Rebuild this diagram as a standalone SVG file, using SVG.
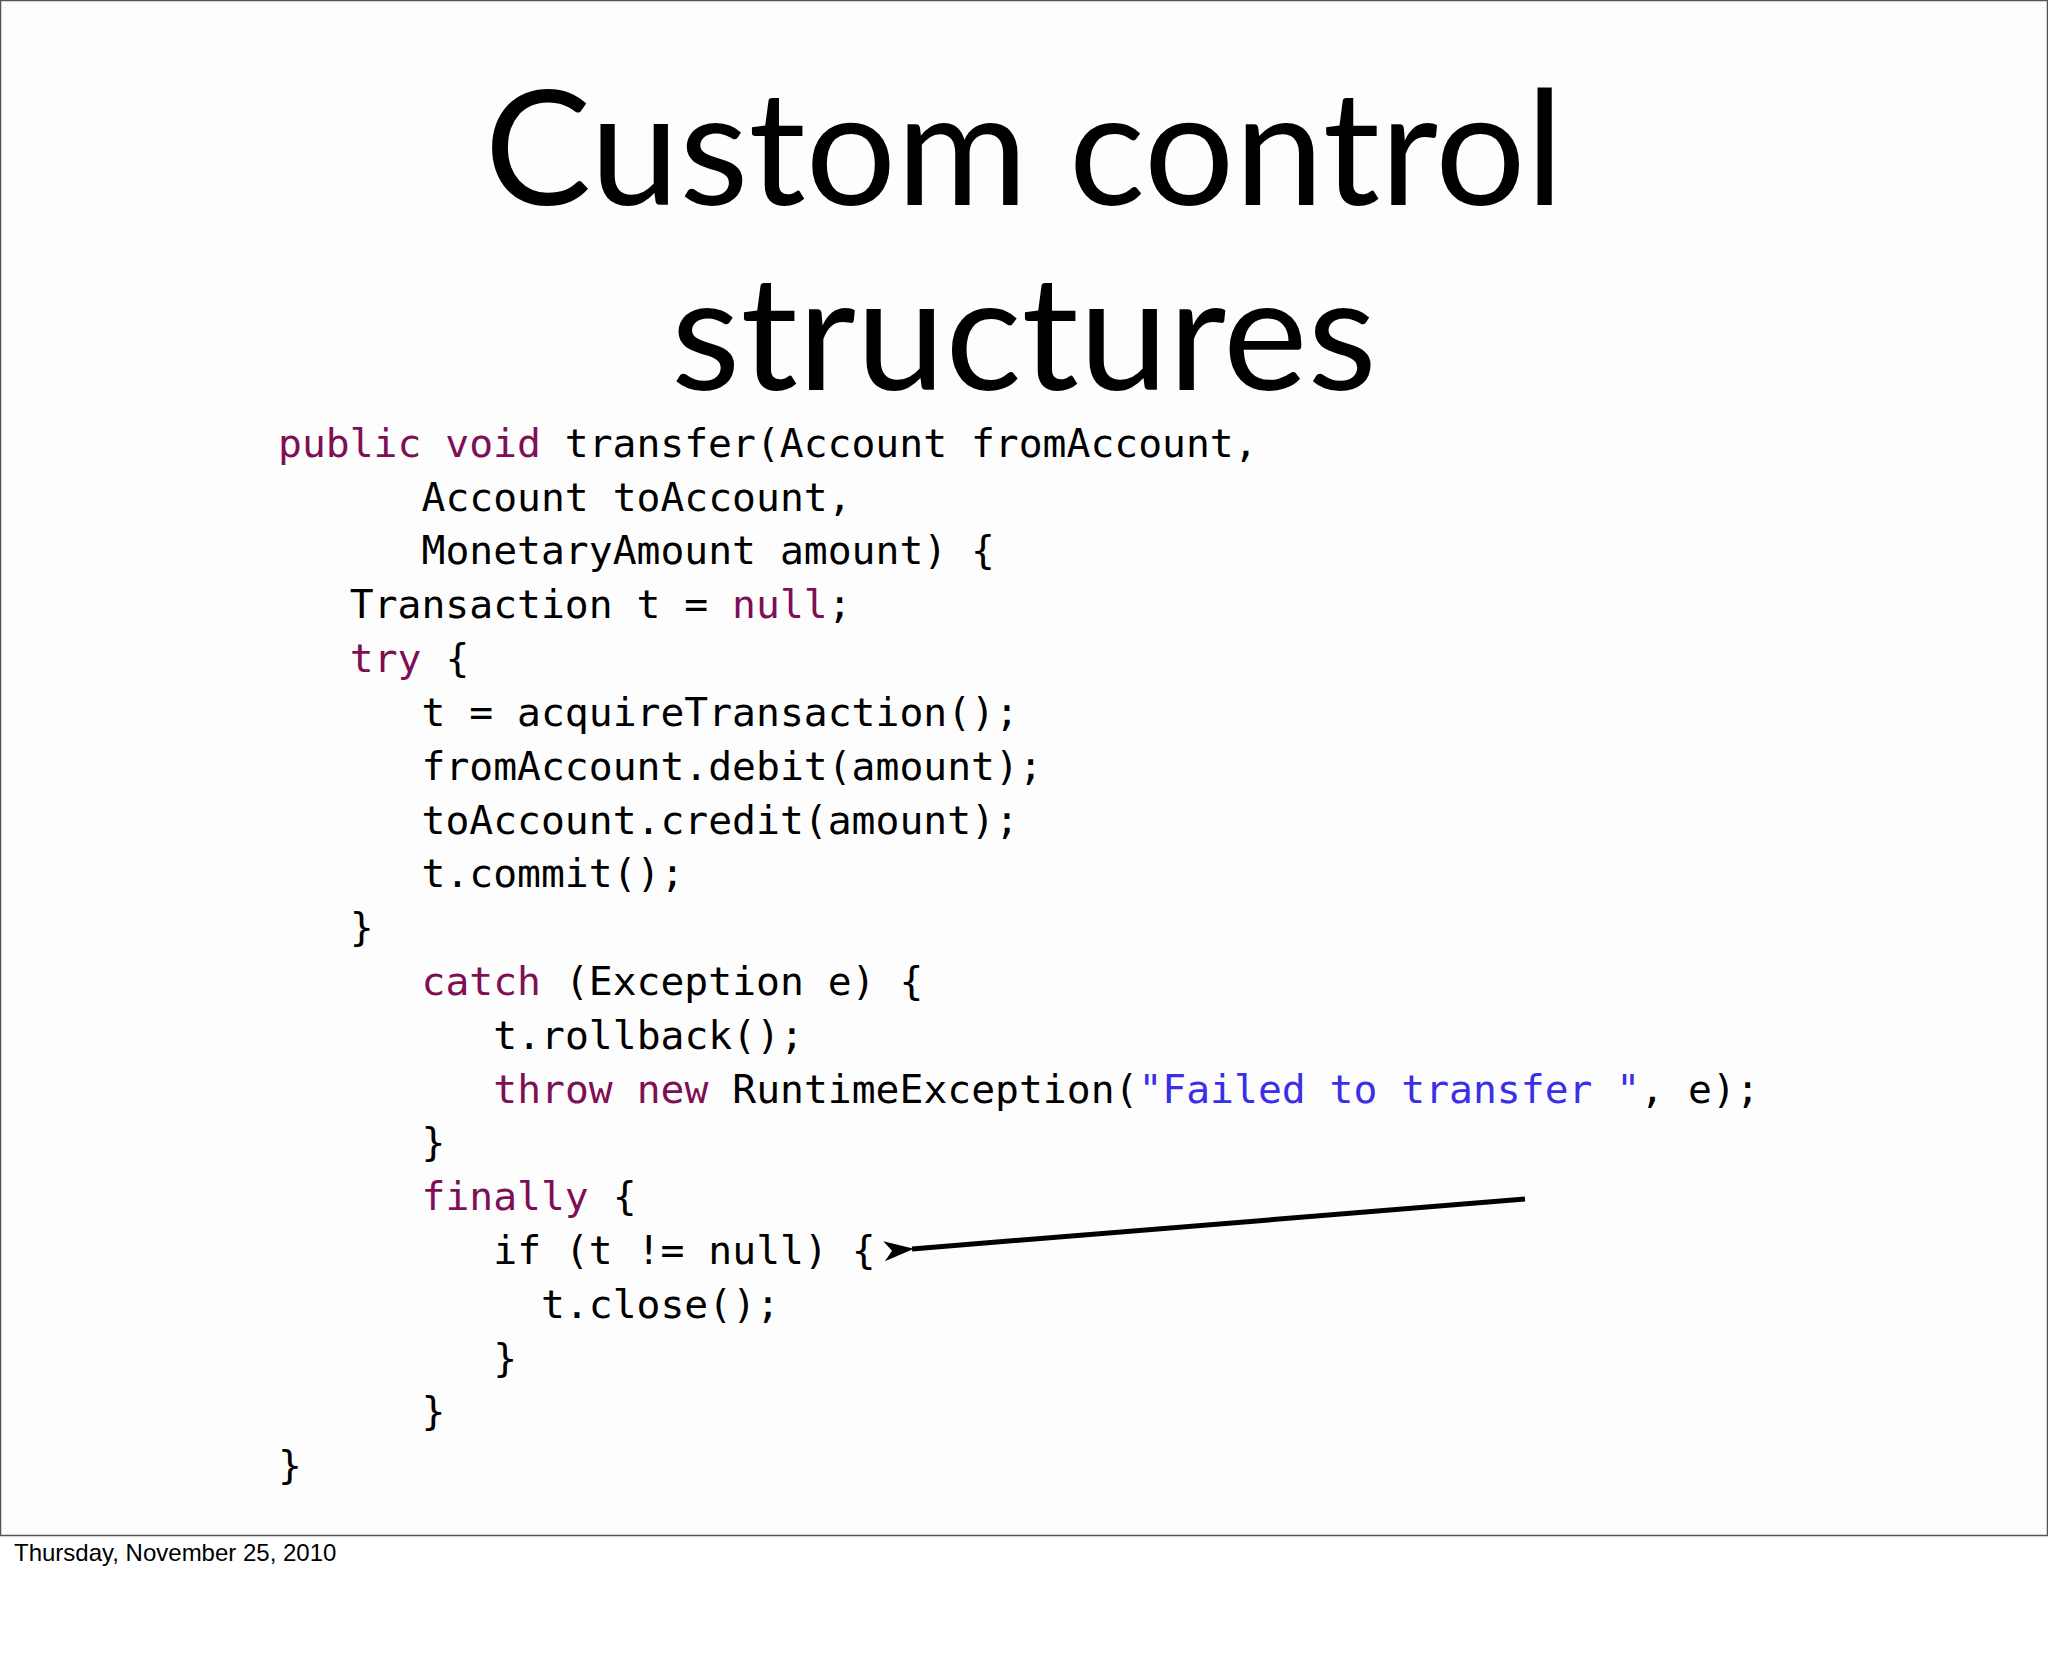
<svg xmlns="http://www.w3.org/2000/svg" width="2048" height="1676" viewBox="0 0 2048 1676">
<style>
.c{font-family:"DejaVu Sans Mono","Liberation Mono",monospace;font-size:39.7px;fill:#000}
.k{fill:#7f0f55}.s{fill:#3a2ee6}
.t{font-family:"Gill Sans","Lato","Open Sans",sans-serif;font-size:160px;fill:#000;text-anchor:middle}
</style>
<defs><marker id="ah" markerWidth="30" markerHeight="24" refX="2" refY="12" orient="auto" markerUnits="userSpaceOnUse" viewBox="0 0 30 24"><path d="M30,2 L0,12 L30,22 L22,12 Z" fill="#000"/></marker></defs>
<rect width="2048" height="1676" fill="#fff"/>
<rect x="0.5" y="0.5" width="2047" height="1535" fill="#fdfdfd" stroke="#555" stroke-width="1.5"/>
<g id="title">
<text class="t" x="1024" y="205">Custom control</text>
<text class="t" x="1024" y="390">structures</text>
</g>
<g id="code">
<text class="c" x="278" y="457"><tspan class="k">public void</tspan> transfer(Account fromAccount,</text>
<text class="c" x="421.5" y="511">Account toAccount,</text>
<text class="c" x="421.5" y="564">MonetaryAmount amount) {</text>
<text class="c" x="349.8" y="618">Transaction t = <tspan class="k">null</tspan>;</text>
<text class="c" x="349.8" y="672"><tspan class="k">try</tspan> {</text>
<text class="c" x="421.5" y="726">t = acquireTransaction();</text>
<text class="c" x="421.5" y="780">fromAccount.debit(amount);</text>
<text class="c" x="421.5" y="834">toAccount.credit(amount);</text>
<text class="c" x="421.5" y="887">t.commit();</text>
<text class="c" x="349.8" y="941">}</text>
<text class="c" x="421.5" y="995"><tspan class="k">catch</tspan> (Exception e) {</text>
<text class="c" x="493.3" y="1049">t.rollback();</text>
<text class="c" x="493.3" y="1103"><tspan class="k">throw new</tspan> RuntimeException(<tspan class="s">"Failed to transfer "</tspan>, e);</text>
<text class="c" x="421.5" y="1156">}</text>
<text class="c" x="421.5" y="1210"><tspan class="k">finally</tspan> {</text>
<text class="c" x="493.3" y="1264">if (t != null) {</text>
<text class="c" x="541" y="1318">t.close();</text>
<text class="c" x="493.3" y="1372">}</text>
<text class="c" x="421.5" y="1425">}</text>
<text class="c" x="278" y="1479">}</text>
</g>
<g id="connectors">
<line x1="1525" y1="1199" x2="912" y2="1249" stroke="#000" stroke-width="5" marker-end="url(#ah)"/>
</g>
<text x="14" y="1561" font-family="Liberation Sans,Arial,sans-serif" font-size="24" fill="#000">Thursday, November 25, 2010</text>
</svg>
